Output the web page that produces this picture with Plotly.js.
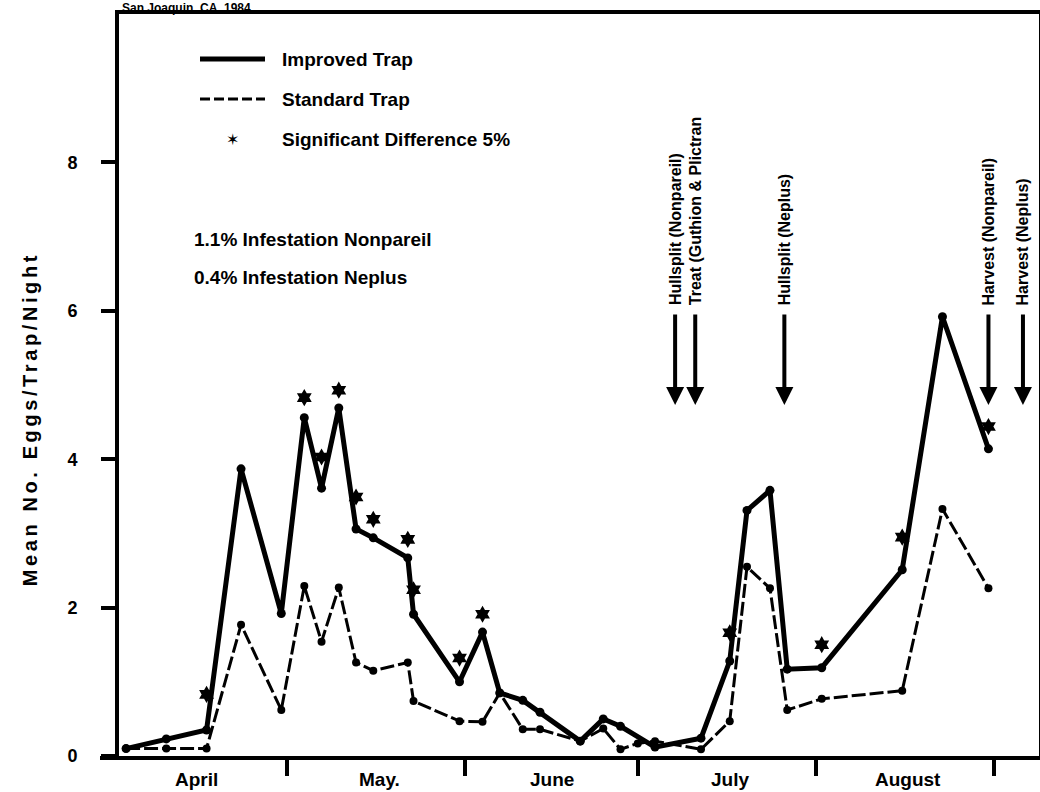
<!DOCTYPE html>
<html>
<head>
<meta charset="utf-8">
<script src="https://cdn.plot.ly/plotly-3.0.1.min.js"></script>
<style>
  html, body { margin: 0; padding: 0; background: #fff; }
  #chart { width: 1040px; height: 792px; }
</style>
</head>
<body>
<div id="chart"></div>
<script>
// Trap catches, mean eggs per trap per night
const improvedDates = ['1984-04-03','1984-04-10','1984-04-17','1984-04-23','1984-04-30',
  '1984-05-04','1984-05-07','1984-05-10','1984-05-13','1984-05-16','1984-05-22','1984-05-23',
  '1984-05-31','1984-06-04','1984-06-07','1984-06-11','1984-06-14','1984-06-21','1984-06-25',
  '1984-06-28','1984-07-04','1984-07-12','1984-07-17','1984-07-20','1984-07-24','1984-07-27',
  '1984-08-02','1984-08-16','1984-08-23','1984-08-31'];
const improvedValues = [0.10, 0.23, 0.35, 3.87, 1.92,
  4.56, 3.61, 4.69, 3.06, 2.94, 2.67, 1.91,
  1.00, 1.67, 0.85, 0.75, 0.59, 0.20, 0.50,
  0.40, 0.12, 0.24, 1.28, 3.31, 3.58, 1.17,
  1.19, 2.51, 5.92, 4.14];

const standardDates = ['1984-04-03','1984-04-10','1984-04-17','1984-04-23','1984-04-30',
  '1984-05-04','1984-05-07','1984-05-10','1984-05-13','1984-05-16','1984-05-22','1984-05-23',
  '1984-05-31','1984-06-04','1984-06-07','1984-06-11','1984-06-14','1984-06-21','1984-06-25',
  '1984-06-28','1984-07-01','1984-07-04','1984-07-12','1984-07-17','1984-07-20','1984-07-24',
  '1984-07-27','1984-08-02','1984-08-16','1984-08-23','1984-08-31'];
const standardValues = [0.10, 0.10, 0.10, 1.77, 0.62,
  2.29, 1.54, 2.27, 1.26, 1.15, 1.26, 0.74,
  0.47, 0.46, 0.85, 0.36, 0.36, 0.20, 0.37,
  0.09, 0.17, 0.20, 0.09, 0.47, 2.55, 2.26,
  0.62, 0.77, 0.88, 3.33, 2.26];

// Nights with a significant difference (5%)
const sigDates = ['1984-04-17','1984-05-04','1984-05-07','1984-05-10','1984-05-13','1984-05-16',
  '1984-05-22','1984-05-23','1984-05-31','1984-06-04','1984-07-17','1984-08-02','1984-08-16','1984-08-31'];
const sigValues = [0.83, 4.83, 4.03, 4.93, 3.49, 3.19, 2.92, 2.24, 1.32, 1.91, 1.66, 1.50, 2.95, 4.44];

// Axis ticks and labels
const monthTicks = ['1984-05-01','1984-06-01','1984-07-01','1984-08-01','1984-09-01'];
const monthLabels = ['April','May.','June','July','August'];
const monthLabelDates = ['1984-04-15 08:00','1984-05-17','1984-06-16','1984-07-17','1984-08-17'];
const yTicks = [0, 2, 4, 6, 8];
const yTitle = 'Mean No. Eggs/Trap/Night';

// Orchard events
const eventLabels = ['Hullsplit (Nonpareil)','Treat (Guthion &amp; Plictran','Hullsplit (Neplus)',
  'Harvest (Nonpareil)','Harvest (Neplus)'];
const eventDates = ['1984-07-07 12:00','1984-07-11','1984-07-26 12:00','1984-08-31','1984-09-06'];

// Layout geometry (pixels)
const W = 1040, H = 792;
const M = { l: 119, r: 1, t: 14, b: 36 };
const plotW = W - M.l - M.r, plotH = H - M.t - M.b;
const px = v => (v - M.l) / plotW;           // page x -> paper x
const py = v => (H - M.b - v) / plotH;       // page y -> paper y

const FONT = '"Liberation Sans", Arial, Helvetica, sans-serif';
const boldFont = (size) => ({ family: FONT, size: size, color: '#000', weight: 'bold' });

const traces = [
  {
    x: improvedDates, y: improvedValues, type: 'scatter', mode: 'lines+markers',
    name: 'Improved Trap', line: { color: '#000', width: 5 },
    marker: { color: '#000', size: 9 }, cliponaxis: false
  },
  {
    x: standardDates, y: standardValues, type: 'scatter', mode: 'lines+markers',
    name: 'Standard Trap', line: { color: '#000', width: 3, dash: '14px,4px' },
    marker: { color: '#000', size: 8 }, cliponaxis: false
  },
  {
    x: sigDates, y: sigValues, type: 'scatter', mode: 'markers',
    name: 'Significant Difference 5%',
    marker: { color: '#000', size: 13, symbol: 'hexagram', line: { width: 0 } }
  }
];

const annotations = [];

// month names centred between boundary ticks
monthLabels.forEach((t, i) => {
  annotations.push({
    x: monthLabelDates[i], xref: 'x', y: py(779), yref: 'paper',
    text: t, showarrow: false, xanchor: 'center', yanchor: 'middle',
    font: boldFont(19)
  });
});

// y-axis title (letter spacing widened after drawing)
annotations.push({
  x: px(30), xref: 'paper', y: py(419), yref: 'paper', text: yTitle,
  textangle: -90, showarrow: false, xanchor: 'center', yanchor: 'middle',
  font: boldFont(20)
});

// heading along the top edge
annotations.push({
  x: px(121), xref: 'paper', y: py(0), yref: 'paper', text: 'San Joaquin, CA, 1984.',
  showarrow: false, xanchor: 'left', yanchor: 'top', borderpad: 0, font: boldFont(12)
});

// key
const keyRows = [
  { y: 59, text: 'Improved Trap' },
  { y: 99, text: 'Standard Trap' },
  { y: 140, text: 'Significant Difference 5%' }
];
keyRows.forEach(r => {
  annotations.push({
    x: px(280), xref: 'paper', y: py(r.y), yref: 'paper', text: r.text,
    showarrow: false, xanchor: 'left', yanchor: 'middle', font: boldFont(19)
  });
});
annotations.push({
  x: px(232), xref: 'paper', y: py(140), yref: 'paper', text: '\u2736',
  showarrow: false, xanchor: 'center', yanchor: 'middle',
  font: { family: '"DejaVu Sans", sans-serif', size: 16, color: '#000' }
});

// infestation notes
annotations.push({
  x: px(192), xref: 'paper', y: py(240), yref: 'paper', text: '1.1% Infestation Nonpareil',
  showarrow: false, xanchor: 'left', yanchor: 'middle', font: boldFont(19)
});
annotations.push({
  x: px(192), xref: 'paper', y: py(277), yref: 'paper', text: '0.4% Infestation Neplus',
  showarrow: false, xanchor: 'left', yanchor: 'middle', font: boldFont(19)
});

// event labels with downward arrows
eventLabels.forEach((t, i) => {
  annotations.push({
    x: eventDates[i], xref: 'x', y: py(307), yref: 'paper', text: t,
    textangle: -90, showarrow: false, xanchor: 'center', yanchor: 'bottom',
    font: boldFont(16)
  });
  annotations.push({
    x: eventDates[i], xref: 'x', y: py(405), yref: 'paper', text: '',
    showarrow: true, ax: 0, ay: -92, arrowhead: 2, arrowsize: 0.9, arrowwidth: 4,
    arrowcolor: '#000', standoff: 0, startstandoff: 0
  });
});

const shapes = [
  // x-axis line runs a little past the y axis on the left
  { type: 'line', xref: 'paper', yref: 'paper', x0: px(100), x1: 0, y0: py(758), y1: py(758),
    line: { color: '#000', width: 4 } },
  // key line samples
  { type: 'line', xref: 'paper', yref: 'paper', x0: px(200), x1: px(265), y0: py(59), y1: py(59),
    line: { color: '#000', width: 5 } },
  { type: 'line', xref: 'paper', yref: 'paper', x0: px(200), x1: px(265), y0: py(99), y1: py(99),
    line: { color: '#000', width: 3, dash: '10px,4px' } }
];

const layout = {
  width: W, height: H,
  margin: M,
  paper_bgcolor: '#fff', plot_bgcolor: '#fff',
  showlegend: false,
  font: { family: FONT, color: '#000' },
  xaxis: {
    type: 'date',
    range: ['1984-04-01 18:30', '1984-09-08 19:00'],
    tickmode: 'array', tickvals: monthTicks, ticktext: monthTicks.map(() => ''),
    ticks: 'outside', ticklen: 16, tickwidth: 4, tickcolor: '#000',
    showline: true, linewidth: 4, linecolor: '#000', mirror: true,
    showgrid: false, zeroline: false, fixedrange: true
  },
  yaxis: {
    range: [0, 10],
    tickmode: 'array', tickvals: yTicks, ticktext: yTicks.map(String),
    ticks: 'outside', ticklen: 14, tickwidth: 4, tickcolor: '#000',
    tickfont: boldFont(18), ticklabelstandoff: 20,
    showline: true, linewidth: 4, linecolor: '#000', mirror: true,
    showgrid: false, zeroline: false, fixedrange: true
  },
  annotations: annotations,
  shapes: shapes
};

Plotly.newPlot('chart', traces, layout, { staticPlot: true, displayModeBar: false }).then(() => {
  // the axis caption is set with open letter spacing
  document.querySelectorAll('#chart .annotation-text').forEach(el => {
    if (el.textContent === yTitle) el.style.letterSpacing = '3.6px';
  });
});
</script>
</body>
</html>
